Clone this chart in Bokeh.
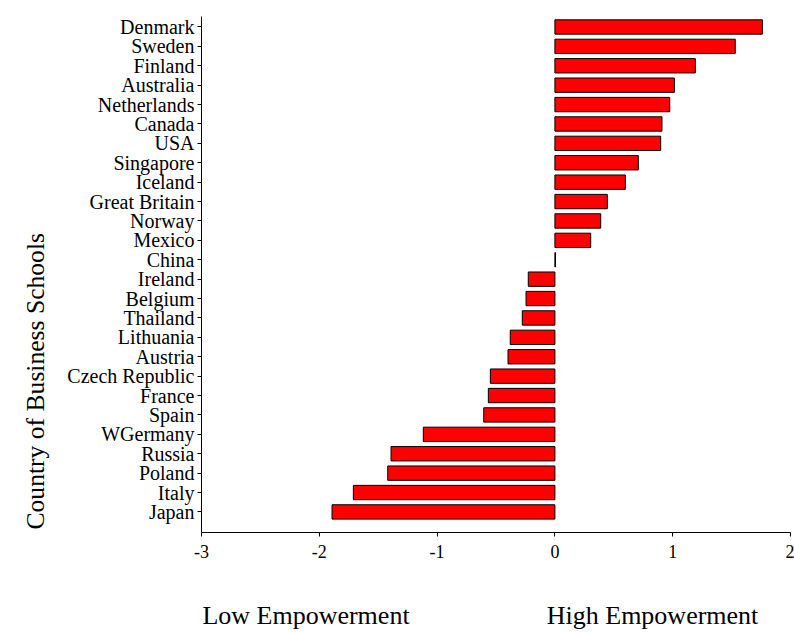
from bokeh.plotting import figure
from bokeh.models import Range1d, FixedTicker, LinearAxis, Title, ColumnDataSource
from bokeh.embed import file_html
from bokeh.resources import INLINE

countries = ["Denmark", "Sweden", "Finland", "Australia", "Netherlands", "Canada",
             "USA", "Singapore", "Iceland", "Great Britain", "Norway", "Mexico",
             "China", "Ireland", "Belgium", "Thailand", "Lithuania", "Austria",
             "Czech Republic", "France", "Spain", "WGermany", "Russia", "Poland",
             "Italy", "Japan"]
empowerment = [1.761, 1.531, 1.192, 1.014, 0.975, 0.909,
               0.898, 0.708, 0.598, 0.445, 0.389, 0.304,
               0.005, -0.226, -0.245, -0.277, -0.379, -0.398,
               -0.548, -0.565, -0.604, -1.117, -1.391, -1.419,
               -1.711, -1.892]
x_ticks = [-3, -2, -1, 0, 1, 2]
x_tick_labels = ["-3", "-2", "-1", "0", "1", "2"]
scale_labels = ["Low Empowerment", "High Empowerment"]
scale_label_pos = [-2.113, 0.829]
y_title = "Country of Business Schools"

n = len(countries)
pos = [n - 1 - i for i in range(n)]

FONT = "Liberation Serif"

p = figure(width=794, height=632, output_backend="svg", toolbar_location=None,
           x_range=Range1d(-3, 2), y_range=Range1d(-1.06, n - 1 + 0.54),
           min_border_left=201, min_border_top=16, min_border_right=4,
           min_border_bottom=100)
p.outline_line_color = None
p.grid.visible = False
p.background_fill_color = "white"
p.border_fill_color = "white"

src = ColumnDataSource(dict(y=pos, right=empowerment, name=countries))
p.hbar(y="y", left=0, right="right", height=0.74, source=src,
       fill_color="#FF0000", line_color="black", line_width=1)

# x axis
xa = p.xaxis[0]
xa.ticker = FixedTicker(ticks=x_ticks)
xa.major_label_overrides = {t: s for t, s in zip(x_ticks, x_tick_labels)}
xa.minor_tick_line_color = None
xa.major_tick_in = 0
xa.major_tick_out = 4
xa.major_label_standoff = 8
xa.major_label_text_font = FONT
xa.major_label_text_font_size = "18px"
xa.major_label_text_color = "black"
xa.axis_line_color = "black"
xa.major_tick_line_color = "black"

# second bottom "axis" carrying the Low / High Empowerment captions
xa2 = LinearAxis(ticker=FixedTicker(ticks=scale_label_pos),
                 major_label_overrides={t: s for t, s in zip(scale_label_pos, scale_labels)})
xa2.axis_line_color = None
xa2.major_tick_line_color = None
xa2.minor_tick_line_color = None
xa2.major_tick_in = 0
xa2.major_tick_out = 0
xa2.major_label_standoff = 40
xa2.major_label_text_font = FONT
xa2.major_label_text_font_size = "26px"
xa2.major_label_text_color = "black"
p.add_layout(xa2, "below")

# y axis
ya = p.yaxis[0]
ya.ticker = FixedTicker(ticks=pos)
ya.major_label_overrides = {pp: c for pp, c in zip(pos, countries)}
ya.minor_tick_line_color = None
ya.major_tick_in = 0
ya.major_tick_out = 4
ya.major_label_standoff = 3
ya.major_label_text_font = FONT
ya.major_label_text_font_size = "20px"
ya.major_label_text_color = "black"
ya.axis_line_color = "black"
ya.major_tick_line_color = "black"

# y title, starting near the bottom of the axis as in the reference
p.add_layout(Title(text=y_title, align="left", offset=3, standoff=30,
                   text_font=FONT, text_font_size="25.6px",
                   text_font_style="normal", text_color="black"), "left")

open("out.html", "w").write(file_html(p, INLINE))
